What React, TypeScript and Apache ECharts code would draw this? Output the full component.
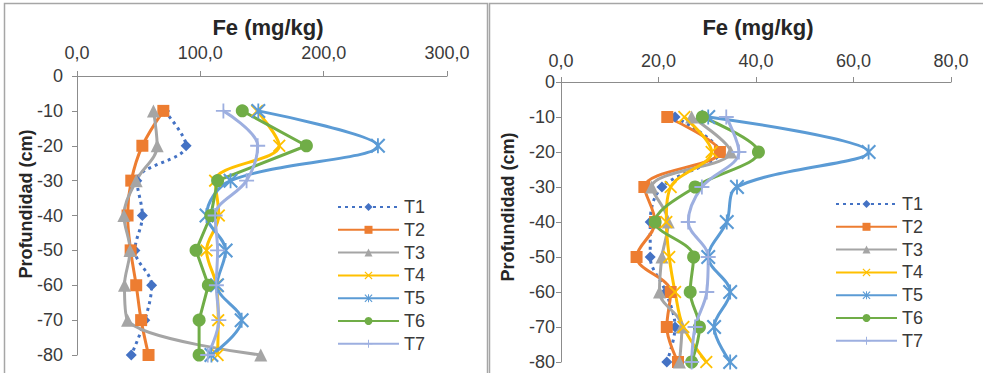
import React, { useEffect, useRef } from "react";
import * as echarts from "echarts";

const depths = [-10, -20, -30, -40, -50, -60, -70, -80];
const seriesNames = ["T1", "T2", "T3", "T4", "T5", "T6", "T7"];
const yTicks = [0, -10, -20, -30, -40, -50, -60, -70, -80];
const leftXTicks = [0, 100, 200, 300];
const rightXTicks = [0, 20, 40, 60, 80];

// Left panel (Fe mg/kg)
const leftT1 = [71, 88.5, 48.5, 53, 47, 60.5, 55, 44];
const leftT2 = [70, 53, 44, 41, 43.5, 48, 52, 58];
const leftT3 = [62, 65, 48, 38, 43, 38.5, 41, 149];
const leftT4 = [146, 164, 112, 115, 105, 113, 114.5, 114];
const leftT5 = [147, 244, 124.5, 105, 120.5, 113.5, 133.5, 109];
const leftT6 = [134, 186, 114, 108.5, 96.5, 106.5, 99, 99];
const leftT7 = [118.7, 146.5, 137.5, 112, 114, 113, 115, 106];

// Right panel (Fe mg/kg)
const rightT1 = [23.4, 32.5, 20.7, 18.3, 18.3, 21.5, 23.4, 21.7];
const rightT2 = [21.8, 32.6, 17.1, 19.3, 15.5, 22.5, 21.7, 24];
const rightT3 = [26.8, 34.8, 18.6, 22, 20.7, 20.2, 24.8, 24.3];
const rightT4 = [25.3, 30.9, 22.5, 21.6, 22.2, 23.4, 25.1, 29.8];
const rightT5 = [30.2, 63.1, 36.1, 34, 30.2, 34.7, 31.4, 34.7];
const rightT6 = [29, 40.5, 27.5, 19.3, 27.2, 26.5, 28.4, 26.8];
const rightT7 = [33.9, 36.5, 28.9, 26.1, 30.2, 29.9, 27.5, 26.8];

const leftData = [leftT1, leftT2, leftT3, leftT4, leftT5, leftT6, leftT7];
const rightData = [rightT1, rightT2, rightT3, rightT4, rightT5, rightT6, rightT7];

const colors = ["#4472C4", "#ED7D31", "#A5A5A5", "#FFC000", "#5B9BD5", "#70AD47", "#9DAFE0"];

const X_PATH = "path://M1,0 L5,4 L9,0 L10,1 L6,5 L10,9 L9,10 L5,6 L1,10 L0,9 L4,5 L0,1 Z";
const STAR_PATH =
  "path://M1,0 L5,4 L9,0 L10,1 L6,5 L10,9 L9,10 L5,6 L1,10 L0,9 L4,5 L0,1 Z M4.4,0 L5.6,0 L5.6,10 L4.4,10 Z";
const PLUS_PATH = "path://M0,4.4 L10,4.4 L10,5.6 L0,5.6 Z M4.4,0 L5.6,0 L5.6,10 L4.4,10 Z";

const symbols = ["diamond", "rect", "triangle", X_PATH, STAR_PATH, "circle", PLUS_PATH];
const symbolSizes = [11, 12, 13, 13, 15, 13, 15];

const FONT = '"Liberation Sans", Arial, sans-serif';

const fmt = (v: number) => v.toFixed(1).replace(".", ",");

export default function App() {
  const ref = useRef<HTMLDivElement>(null);
  useEffect(() => {
    if (!ref.current) return;
    const chart = echarts.init(ref.current, undefined, { renderer: "svg" });

    const mkXAxis = (gridIndex: number, max: number, interval: number, margin: number) => ({
      type: "value",
      gridIndex,
      position: "top",
      min: 0,
      max,
      interval,
      axisLine: { show: true, lineStyle: { color: "#8C8C8C", width: 1 } },
      axisTick: { show: true, length: 5, lineStyle: { color: "#8C8C8C" } },
      splitLine: { show: false },
      axisLabel: {
        formatter: fmt,
        fontSize: 18,
        fontFamily: FONT,
        color: "#3A3A3A",
        margin,
      },
    });
    const mkYAxis = (gridIndex: number, margin: number) => ({
      type: "value",
      gridIndex,
      min: -80,
      max: 0,
      interval: 10,
      axisLine: { show: true, onZero: false, lineStyle: { color: "#8C8C8C", width: 1 } },
      axisTick: { show: true, length: 5, lineStyle: { color: "#8C8C8C" } },
      splitLine: { show: false },
      axisLabel: { fontSize: 18, fontFamily: FONT, color: "#3A3A3A", margin },
    });

    const series: any[] = [];
    [leftData, rightData].forEach((panel, pi) => {
      panel.forEach((vals, si) => {
        const straight = pi === 0 && si === 5;
        series.push({
          type: "line",
          name: seriesNames[si],
          xAxisIndex: pi,
          yAxisIndex: pi,
          data: vals.map((v, i) => [v, depths[i]]),
          smooth: straight ? false : 0.35,
          symbol: symbols[si],
          symbolSize: symbolSizes[si],
          showSymbol: true,
          color: colors[si],
          itemStyle: { color: colors[si] },
          lineStyle: {
            color: colors[si],
            width: 3,
            type: si === 0 ? [3, 4] : "solid",
          },
          emphasis: { disabled: true },
        });
      });
    });

    const legendBase = {
      orient: "vertical",
      data: seriesNames,
      itemWidth: 61,
      itemHeight: 10,
      itemGap: 4.8,
      padding: 0,
      textStyle: { fontSize: 18, fontFamily: FONT, color: "#3A3A3A", lineHeight: 18 },
    };

    const titleStyle = {
      text: "Fe (mg/kg)",
      align: "center",
      verticalAlign: "middle",
      fontSize: 22,
      fontWeight: "bold",
      fontFamily: FONT,
      fill: "#262626",
    };
    const yNameStyle = {
      text: "Profundidad (cm)",
      align: "center",
      verticalAlign: "middle",
      fontSize: 18,
      fontWeight: "bold",
      fontFamily: FONT,
      fill: "#262626",
    };

    const option: any = {
      animation: false,
      backgroundColor: "#ffffff",
      grid: [
        { left: 77, top: 76, width: 370, height: 279 },
        { left: 561, top: 82, width: 390, height: 280 },
      ],
      xAxis: [mkXAxis(0, 300, 100, 14), mkXAxis(1, 80, 20, 12)],
      yAxis: [mkYAxis(0, 14), mkYAxis(1, 6)],
      legend: [
        { ...legendBase, left: 337, top: 198 },
        { ...legendBase, left: 835, top: 195 },
      ],
      series,
      graphic: [
        {
          type: "rect",
          shape: { x: 4.5, y: 3.5, width: 483, height: 420 },
          style: { fill: "none", stroke: "#A6A6A6", lineWidth: 1.5 },
          silent: true,
        },
        {
          type: "rect",
          shape: { x: 489.5, y: 3.5, width: 520, height: 420 },
          style: { fill: "none", stroke: "#A6A6A6", lineWidth: 1.5 },
          silent: true,
        },
        { type: "text", x: 268, y: 27, style: titleStyle },
        { type: "text", x: 758, y: 27, style: titleStyle },
        { type: "text", x: 26, y: 204, rotation: Math.PI / 2, style: yNameStyle },
        { type: "text", x: 508, y: 207, rotation: Math.PI / 2, style: yNameStyle },
      ],
    };
    chart.setOption(option);
    return () => chart.dispose();
  }, []);
  return (
    <div
      ref={ref}
      style={{ position: "absolute", left: 0, top: 0, width: 983, height: 373 }}
    />
  );
}
